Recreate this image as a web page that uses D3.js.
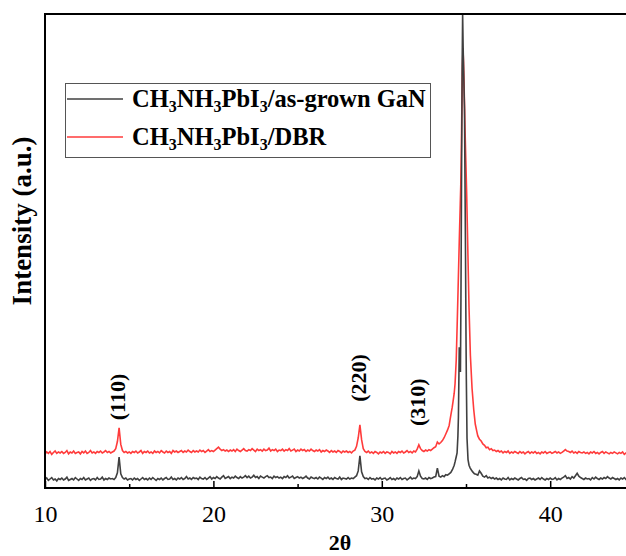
<!DOCTYPE html>
<html><head><meta charset="utf-8">
<script src="https://cdn.jsdelivr.net/npm/d3@7"></script>
<style>body{margin:0;background:#fff}svg{display:block}</style>
</head><body>
<script>
// ---------- DATA ----------
const xTicksMajor = [10, 20, 30, 40];
const xTicksMinor = [15, 25, 35, 45];
const seriesNames = ["as-grown GaN", "DBR"];
const peakLabels = ["(110)", "(220)", "(310)"];
const peakLabelX = [14.4, 28.7, 32.2];
const peakLabelY = [19.2, 23.2, 18.1];

// black (as-grown GaN): regular grid 10.0 .. 34.3, step 0.1
const blackA = [
1.8,2.1,1.6,1.9,2.2,1.7,1.9,1.5,2.0,1.8,
2.1,1.7,1.9,2.3,1.6,1.8,2.0,1.7,2.2,1.9,
1.6,2.0,1.8,2.2,1.7,1.9,2.1,1.6,1.9,2.0,
1.7,2.2,1.8,1.9,2.3,1.7,2.0,1.8,2.1,1.9,
2.0,1.8,2.2,3.2,6.5,3.0,2.2,1.9,2.1,1.7,
1.9,2.0,1.7,2.1,1.8,2.0,1.6,1.9,2.2,1.8,
2.0,1.7,2.1,1.8,2.2,1.9,1.6,2.0,1.8,2.1,
1.7,2.0,2.2,1.8,1.9,2.3,1.8,2.0,1.7,2.1,
1.9,2.2,1.8,2.0,2.4,1.9,2.1,1.8,2.2,2.0,
2.1,1.8,2.3,2.0,1.9,2.2,1.8,2.1,2.4,1.9,
2.2,2.0,2.4,2.1,1.9,2.3,2.6,2.0,2.2,2.4,
2.0,2.3,2.1,2.5,2.2,2.0,2.4,2.1,2.3,2.6,
2.2,2.5,2.1,2.3,2.7,2.2,2.4,2.0,2.5,2.3,
2.1,2.4,2.6,2.2,2.3,2.0,2.5,2.2,2.4,2.1,
2.3,2.0,2.4,2.2,2.6,2.1,2.3,2.5,2.0,2.2,
2.4,2.1,2.3,2.0,2.2,2.5,2.1,1.9,2.3,2.1,
2.0,2.2,1.9,2.3,2.1,1.8,2.2,2.0,2.3,1.9,
2.1,1.8,2.2,2.0,1.9,2.3,1.8,2.1,2.0,1.9,
2.2,1.9,2.1,2.0,2.3,2.6,3.6,6.8,3.4,2.4,
2.0,2.1,1.8,2.2,1.9,2.0,1.7,2.1,1.9,2.2,
1.8,2.0,2.1,1.7,1.9,2.2,1.8,2.0,1.7,2.1,
1.9,2.2,1.8,2.0,2.1,1.7,2.0,2.3,1.9,2.1,
2.0,2.4,3.6,2.5,2.0,1.9,2.1,1.8,2.2,2.0,
2.1,2.3,2.4,4.2,2.5,2.3,2.6,2.4,2.8,2.7,
3.0,3.3,3.9,4.8
];
// black main peak region (x, intensity)
const blackPeak = [
[34.35,5.5],[34.42,6.6],[34.47,7.4],[34.52,11],[34.55,15],[34.58,24],[34.60,29.7],
[34.63,27],[34.67,24.5],[34.70,40],[34.73,61],[34.77,88],[34.80,100],[34.83,93],
[34.86,88],[34.91,80],[34.94,65],[34.97,50],[35.00,32],[35.02,23],[35.06,10.5],
[35.12,6.0],[35.18,4.8],[35.25,4.2],[35.32,3.8]
];
// black grid 35.4 .. 45.0, step 0.1
const blackB = [
3.4,3.0,2.9,2.7,3.6,3.1,
2.5,2.3,2.6,2.1,2.3,2.0,2.2,1.9,2.1,1.8,
2.0,1.7,2.1,1.9,1.8,2.2,1.7,2.0,1.8,2.1,
1.9,1.7,2.0,2.2,1.8,1.9,1.6,2.0,2.1,1.8,
2.0,1.7,1.9,2.1,1.8,2.2,1.9,1.7,2.0,1.8,
2.1,1.8,1.9,2.2,1.7,2.0,1.8,2.1,2.3,2.6,
2.0,2.2,1.9,2.4,2.1,2.6,3.1,2.5,2.2,2.0,
1.8,2.1,1.9,2.0,1.7,2.2,1.9,2.3,2.0,1.8,
2.1,1.9,2.2,2.0,2.4,2.1,1.9,2.2,2.0,1.8,
2.0,1.7,2.1,1.9,2.2,1.8,2.0,2.3,1.9,2.1,
1.9
];

// red (DBR): regular grid 10.0 .. 34.0, step 0.1
const redA = [
7.2,7.6,7.3,7.7,7.1,7.5,7.8,7.3,7.6,7.4,
7.7,7.3,7.5,7.9,7.2,7.6,7.4,7.8,7.3,7.5,
7.6,7.2,7.7,7.4,7.8,7.3,7.5,7.9,7.4,7.6,
7.3,7.7,7.5,7.8,7.4,7.6,7.9,7.5,7.7,7.4,
7.6,7.8,8.3,9.8,12.7,9.2,7.9,7.5,7.7,7.4,
7.6,7.3,7.7,7.5,7.8,7.4,7.6,7.9,7.3,7.7,
7.5,7.8,7.4,7.6,7.3,7.8,7.5,7.7,7.4,7.9,
7.6,7.4,7.8,7.5,7.7,7.3,7.9,7.6,7.8,7.5,
7.7,7.9,7.5,7.8,7.6,8.0,7.7,7.5,7.9,7.6,
7.8,7.6,8.0,7.7,7.9,7.5,7.8,8.1,7.7,7.9,
7.7,8.0,8.3,8.6,8.2,7.9,8.1,7.8,8.0,7.7,
8.0,7.8,8.1,7.7,8.2,7.9,7.7,8.0,8.3,7.9,
7.8,8.1,7.9,8.3,8.0,7.7,8.2,7.9,8.1,7.8,
8.2,7.9,8.0,8.4,7.8,8.1,7.9,8.2,7.7,8.0,
7.9,8.2,7.8,8.1,7.9,8.3,7.8,8.0,8.2,7.7,
8.0,7.8,8.2,7.9,8.1,7.7,8.0,7.8,8.2,7.9,
7.7,8.0,7.8,8.1,7.6,7.9,7.7,8.0,7.8,7.5,
7.9,7.6,7.8,7.5,7.9,7.7,7.4,7.8,7.6,7.8,
7.5,7.7,7.4,7.8,8.0,8.8,10.6,13.3,10.2,8.3,
7.7,7.5,7.8,7.4,7.6,7.3,7.7,7.5,7.2,7.6,
7.4,7.7,7.3,7.6,7.5,7.2,7.7,7.4,7.6,7.3,
7.7,7.5,7.8,7.4,7.6,7.9,7.5,7.7,7.4,7.8,
7.6,8.2,9.1,8.3,7.9,7.7,8.0,7.8,8.1,7.9,
8.2,8.5,8.7,9.7,9.3,9.6,10.0,10.6,11.4,12.2,
13.2
];
const redPeak = [
[34.05,14.3],[34.12,15.8],[34.18,17.0],[34.23,18.2],[34.30,20.0],[34.35,22],
[34.42,27],[34.48,35],[34.53,42],[34.60,52],[34.66,60],[34.69,64],[34.73,73],
[34.76,82],[34.79,89],[34.82,92.8],[34.85,90],[34.88,86],[34.91,81],[34.94,76],
[34.99,69],[35.04,62],[35.11,50],[35.18,38],[35.26,28],[35.36,21],[35.46,16.5],
[35.55,13.5],[35.65,11.8]
];
// red grid 35.7 .. 45.0, step 0.1
const redB = [
11.0,10.3,9.9,
9.3,9.0,8.5,8.6,8.1,8.3,7.9,8.0,7.7,7.9,
7.6,7.8,7.4,7.7,7.5,7.8,7.3,7.6,7.4,7.7,
7.5,7.3,7.7,7.4,7.6,7.2,7.5,7.7,7.3,7.6,
7.4,7.7,7.3,7.5,7.2,7.6,7.4,7.7,7.3,7.5,
7.6,7.3,7.5,7.7,7.4,7.6,7.3,7.5,7.8,8.1,
7.8,7.7,7.5,7.8,7.4,7.6,7.3,7.7,7.5,7.4,
7.6,7.3,7.5,7.2,7.6,7.4,7.7,7.3,7.5,7.2,
7.5,7.7,7.3,7.6,7.4,7.2,7.5,7.3,7.6,7.4,
7.2,7.5,7.3,7.6,7.1,7.4,7.2,7.5,7.3,7.1,
7.3
];

// ---------- BUILD ----------
function grid(vals, x0) { return vals.map((v, i) => [+(x0 + i * 0.1).toFixed(2), v]); }
const blackData = grid(blackA, 10.0).concat(blackPeak, grid(blackB, 35.4));
const redData = grid(redA, 10.0).concat(redPeak, grid(redB, 35.7));

const W = 626, H = 556;
const x = d3.scaleLinear().domain([10, 45]).range([45, 634.4]);
const y = d3.scaleLinear().domain([0, 100]).range([488, 14]);

const svg = d3.select("body").append("svg").attr("width", W).attr("height", H)
  .style("font-family", "'Liberation Serif','Times New Roman',serif");

const line = d3.line().x(d => x(d[0])).y(d => y(d[1]));

svg.append("path").datum(redData).attr("d", line)
  .attr("fill", "none").attr("stroke", "#ff3b3b").attr("stroke-width", 1.6);
svg.append("path").datum(blackData).attr("d", line)
  .attr("fill", "none").attr("stroke", "#404040").attr("stroke-width", 1.6);

// frame
svg.append("line").attr("x1", 45).attr("x2", 640).attr("y1", 14).attr("y2", 14)
  .attr("stroke", "#000").attr("stroke-width", 2);
svg.append("line").attr("x1", 45).attr("x2", 45).attr("y1", 13).attr("y2", 489)
  .attr("stroke", "#000").attr("stroke-width", 2);

// x axis
const xAxis = d3.axisBottom(x).tickValues(xTicksMajor).tickSizeInner(-7).tickSizeOuter(0)
  .tickPadding(17).tickFormat(d3.format("d"));
const gx = svg.append("g").attr("transform", `translate(0,488)`).call(xAxis);
gx.select(".domain").attr("stroke-width", 2).attr("d", `M44,0H640`);
gx.selectAll(".tick line").attr("stroke-width", 1.5);
gx.selectAll(".tick text").attr("font-size", 24).attr("fill", "#000")
  .attr("font-family", "'Liberation Serif',serif");
const xAxisMinor = d3.axisBottom(x).tickValues(xTicksMinor).tickSizeInner(-4).tickSizeOuter(0).tickFormat("");
const gm = svg.append("g").attr("transform", `translate(0,488)`).call(xAxisMinor);
gm.select(".domain").remove();
gm.selectAll(".tick line").attr("stroke-width", 1.5);

// axis titles
svg.append("text").attr("x", 340).attr("y", 550).attr("text-anchor", "middle")
  .attr("font-weight", "bold").attr("font-size", 22).text("2θ");
svg.append("text").attr("transform", "translate(31,221) rotate(-90)").attr("text-anchor", "middle")
  .attr("font-weight", "bold").attr("font-size", 27).text("Intensity (a.u.)");

// peak labels
peakLabels.forEach((t, i) => {
  svg.append("text").attr("transform", `translate(${x(peakLabelX[i]) + 6},${y(peakLabelY[i])}) rotate(-90)`)
    .attr("text-anchor", "middle")
    .attr("font-weight", "bold").attr("font-size", 22).text(t);
});

// legend
const lg = svg.append("g");
lg.append("rect").attr("x", 65.5).attr("y", 83.5).attr("width", 365).attr("height", 74)
  .attr("fill", "#fff").attr("stroke", "#555").attr("stroke-width", 1);
const legColors = ["#404040", "#ff3b3b"];
const legY = [99, 137];
seriesNames.forEach((name, i) => {
  lg.append("line").attr("x1", 67).attr("x2", 123).attr("y1", legY[i]).attr("y2", legY[i])
    .attr("stroke", legColors[i]).attr("stroke-width", 1.5);
  const t = lg.append("text").attr("x", 132).attr("y", legY[i] + 8)
    .attr("font-weight", "bold").attr("font-size", 24.5);
  const parts = [["CH",0],["3",1],["NH",0],["3",1],["PbI",0],["3",1],["/" + name,0]];
  parts.forEach(([s, sub]) => {
    const ts = t.append("tspan").text(s);
    if (sub) ts.attr("font-size", 16).attr("dy", 5);
    else if (s !== "CH") ts.attr("dy", -5);
  });
});
</script>
</body></html>
